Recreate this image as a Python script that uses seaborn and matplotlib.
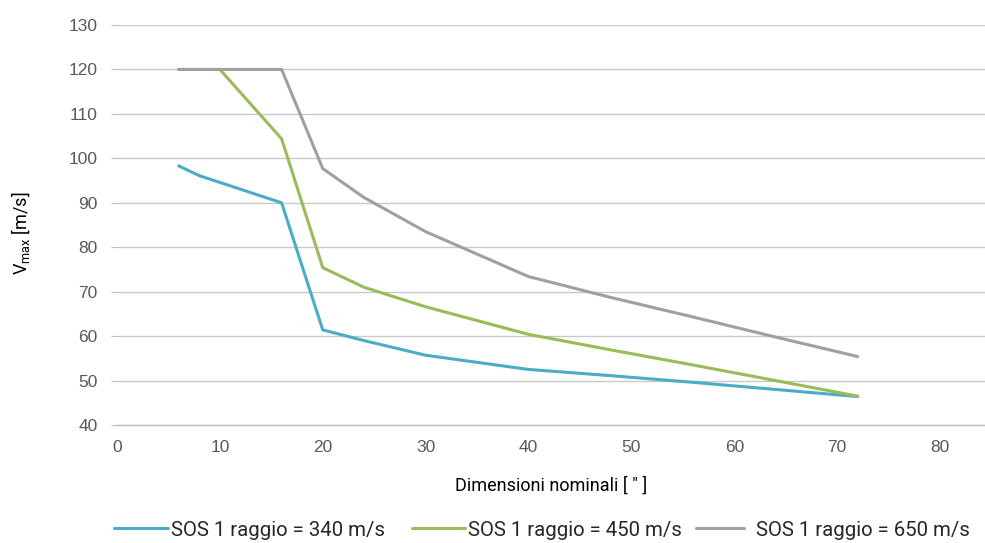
import matplotlib
matplotlib.use("Agg")
import matplotlib.pyplot as plt
import pandas as pd
import seaborn as sns

# Nominal pipe sizes [inch] and maximum velocities [m/s] per speed of sound
sizes_340 = [6, 8, 16, 20, 24, 30, 40, 48, 56, 64, 72]
vmax_340 = [98.3, 96.1, 90.0, 61.4, 59.0, 55.7, 52.5, 51.1, 49.6, 48.0, 46.4]

sizes_450 = [6, 8, 10, 16, 20, 24, 30, 40, 48, 56, 64, 72]
vmax_450 = [120.0, 120.0, 120.0, 104.4, 75.4, 71.0, 66.6, 60.4, 56.9, 53.5, 50.0, 46.5]

sizes_650 = [6, 8, 10, 16, 20, 24, 30, 40, 48, 56, 64, 72]
vmax_650 = [120.0, 120.0, 120.0, 120.0, 97.7, 91.2, 83.5, 73.4, 68.7, 64.3, 59.8, 55.4]

series_labels = ["SOS 1 raggio = 340 m/s", "SOS 1 raggio = 450 m/s", "SOS 1 raggio = 650 m/s"]
series_colors = ["#4BACC6", "#9BBB59", "#A0A0A0"]

x_ticks = [0, 10, 20, 30, 40, 50, 60, 70, 80]
y_ticks = [40, 50, 60, 70, 80, 90, 100, 110, 120, 130]

frames = []
for lab, xs, ys in zip(series_labels, [sizes_340, sizes_450, sizes_650],
                       [vmax_340, vmax_450, vmax_650]):
    frames.append(pd.DataFrame({"size": xs, "vmax": ys, "serie": lab}))
df = pd.concat(frames, ignore_index=True)

sns.set_theme(style="white")
label_font = "Roboto"
plt.rcParams["font.family"] = ["Liberation Sans", "DejaVu Sans"]
plt.rcParams["mathtext.fontset"] = "custom"
plt.rcParams["mathtext.rm"] = label_font
plt.rcParams["mathtext.it"] = label_font

W, H = 985, 543
fig = plt.figure(figsize=(W / 100, H / 100), dpi=100)
ax = fig.add_axes([117 / W, 1 - 425 / H, 1 - 117 / W, (425 - 25) / H])

sns.lineplot(data=df, x="size", y="vmax", hue="serie", hue_order=series_labels,
             palette=series_colors, linewidth=2.2, sort=False, ax=ax, legend=False)

ax.set_xlim(0, (W - 117) / ((940 - 117) / 80))
ax.set_ylim(40, 130)
ax.set_xticks(x_ticks)
ax.set_yticks(y_ticks)
ax.yaxis.grid(True, color="#C9C9C9", linewidth=1.0)
ax.xaxis.grid(False)
ax.set_axisbelow(True)
for s in ["top", "right", "left"]:
    ax.spines[s].set_visible(False)
ax.spines["bottom"].set_color("#BFBFBF")
ax.spines["bottom"].set_linewidth(1.0)
ax.tick_params(axis="y", length=4, width=0.8, color="#BFBFBF", pad=10,
               labelsize=12.5, labelcolor="#595959", left=True)
ax.tick_params(axis="x", length=0, pad=11, labelsize=12.5, labelcolor="#595959")

ax.set_xlabel("Dimensioni nominali [ \" ]", fontsize=13, family=label_font,
              color="#000000", labelpad=15)
ax.set_ylabel(r"V$_{\mathrm{max}}$ [m/s]", fontsize=13, family=label_font,
              color="#000000")
ax.yaxis.set_label_coords((32 - 117) / (W - 117), 0.48)

# legend entries laid out along the bottom edge
fs = 14.7
em = fs * 100 / 72
entries = [(114, 54, 3), (412, 53, 3), (696, 48, 12)]
for (x0, hlen, gap), lab, col in zip(entries, series_labels, series_colors):
    h = plt.Line2D([0], [0], color=col, linewidth=2.2)
    fig.legend([h], [lab], loc="center left", bbox_to_anchor=(x0 / W, 1 - 530 / H),
               frameon=False, handlelength=hlen / em, handletextpad=gap / em,
               borderpad=0, borderaxespad=0,
               prop={"family": label_font, "size": fs})

fig.savefig("out.png", dpi=100)
